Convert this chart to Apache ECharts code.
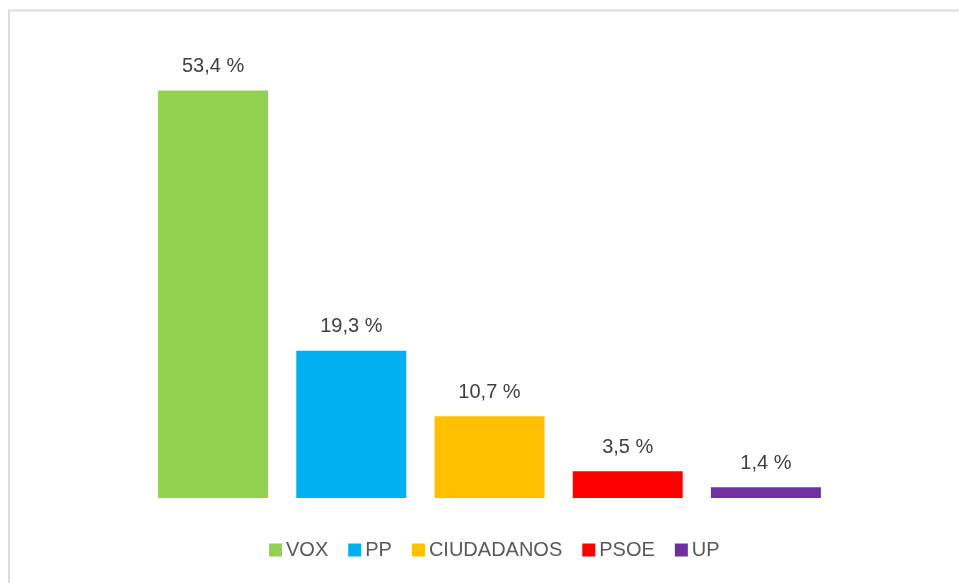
<!DOCTYPE html>
<html>
<head>
<meta charset="utf-8">
<style>
  html, body { margin: 0; padding: 0; background: #ffffff; }
  #chart { width: 959px; height: 583px; }
</style>
<script src="https://cdn.jsdelivr.net/npm/echarts@6/dist/echarts.min.js"></script>
</head>
<body>
<div id="chart"></div>
<script>
// datos
const parties = ['VOX', 'PP', 'CIUDADANOS', 'PSOE', 'UP'];
const percents = [53.4, 19.3, 10.7, 3.5, 1.4];
const colors = ['#92d050', '#00b0f0', '#ffc000', '#ff0000', '#7030a0'];

const FONT = '"Liberation Sans Narrow", "Liberation Sans", Arial, sans-serif';

const myChart = echarts.init(document.getElementById('chart'));

// una serie por partido, solo con su propio valor
const series = parties.map((name, i) => ({
    name: name,
    type: 'bar',
    barWidth: 110,
    barGap: '-100%',
    data: percents.map((v, j) => (j === i ? v : '-')),
    itemStyle: { color: colors[i] },
    label: {
        show: true,
        position: 'top',
        distance: 14,
        color: '#404040',
        fontSize: 20,
        fontFamily: FONT,
        formatter: p => String(p.value).replace('.', ',') + ' %'
    },
    emphasis: { disabled: true },
    animation: false
}));

const option = {
    backgroundColor: '#ffffff',
    graphic: [{
        type: 'rect',
        shape: { x: 9, y: 10.5, width: 960, height: 600 },
        style: { fill: 'none', stroke: '#dcdcdc', lineWidth: 2 },
        silent: true
    }],
    grid: { left: 144, top: 40, width: 691, bottom: 85 },
    legend: {
        data: parties,
        bottom: 18,
        left: 264,
        icon: 'rect',
        itemWidth: 13,
        itemHeight: 13,
        itemGap: 20,
        textStyle: { color: '#595959', fontSize: 20, fontFamily: FONT, padding: [0, 0, 0, -1] }
    },
    xAxis: {
        type: 'category',
        data: parties,
        show: false
    },
    yAxis: {
        type: 'value',
        min: 0,
        max: 60,
        show: false
    },
    series: series
};

myChart.setOption(option);
</script>
</body>
</html>
